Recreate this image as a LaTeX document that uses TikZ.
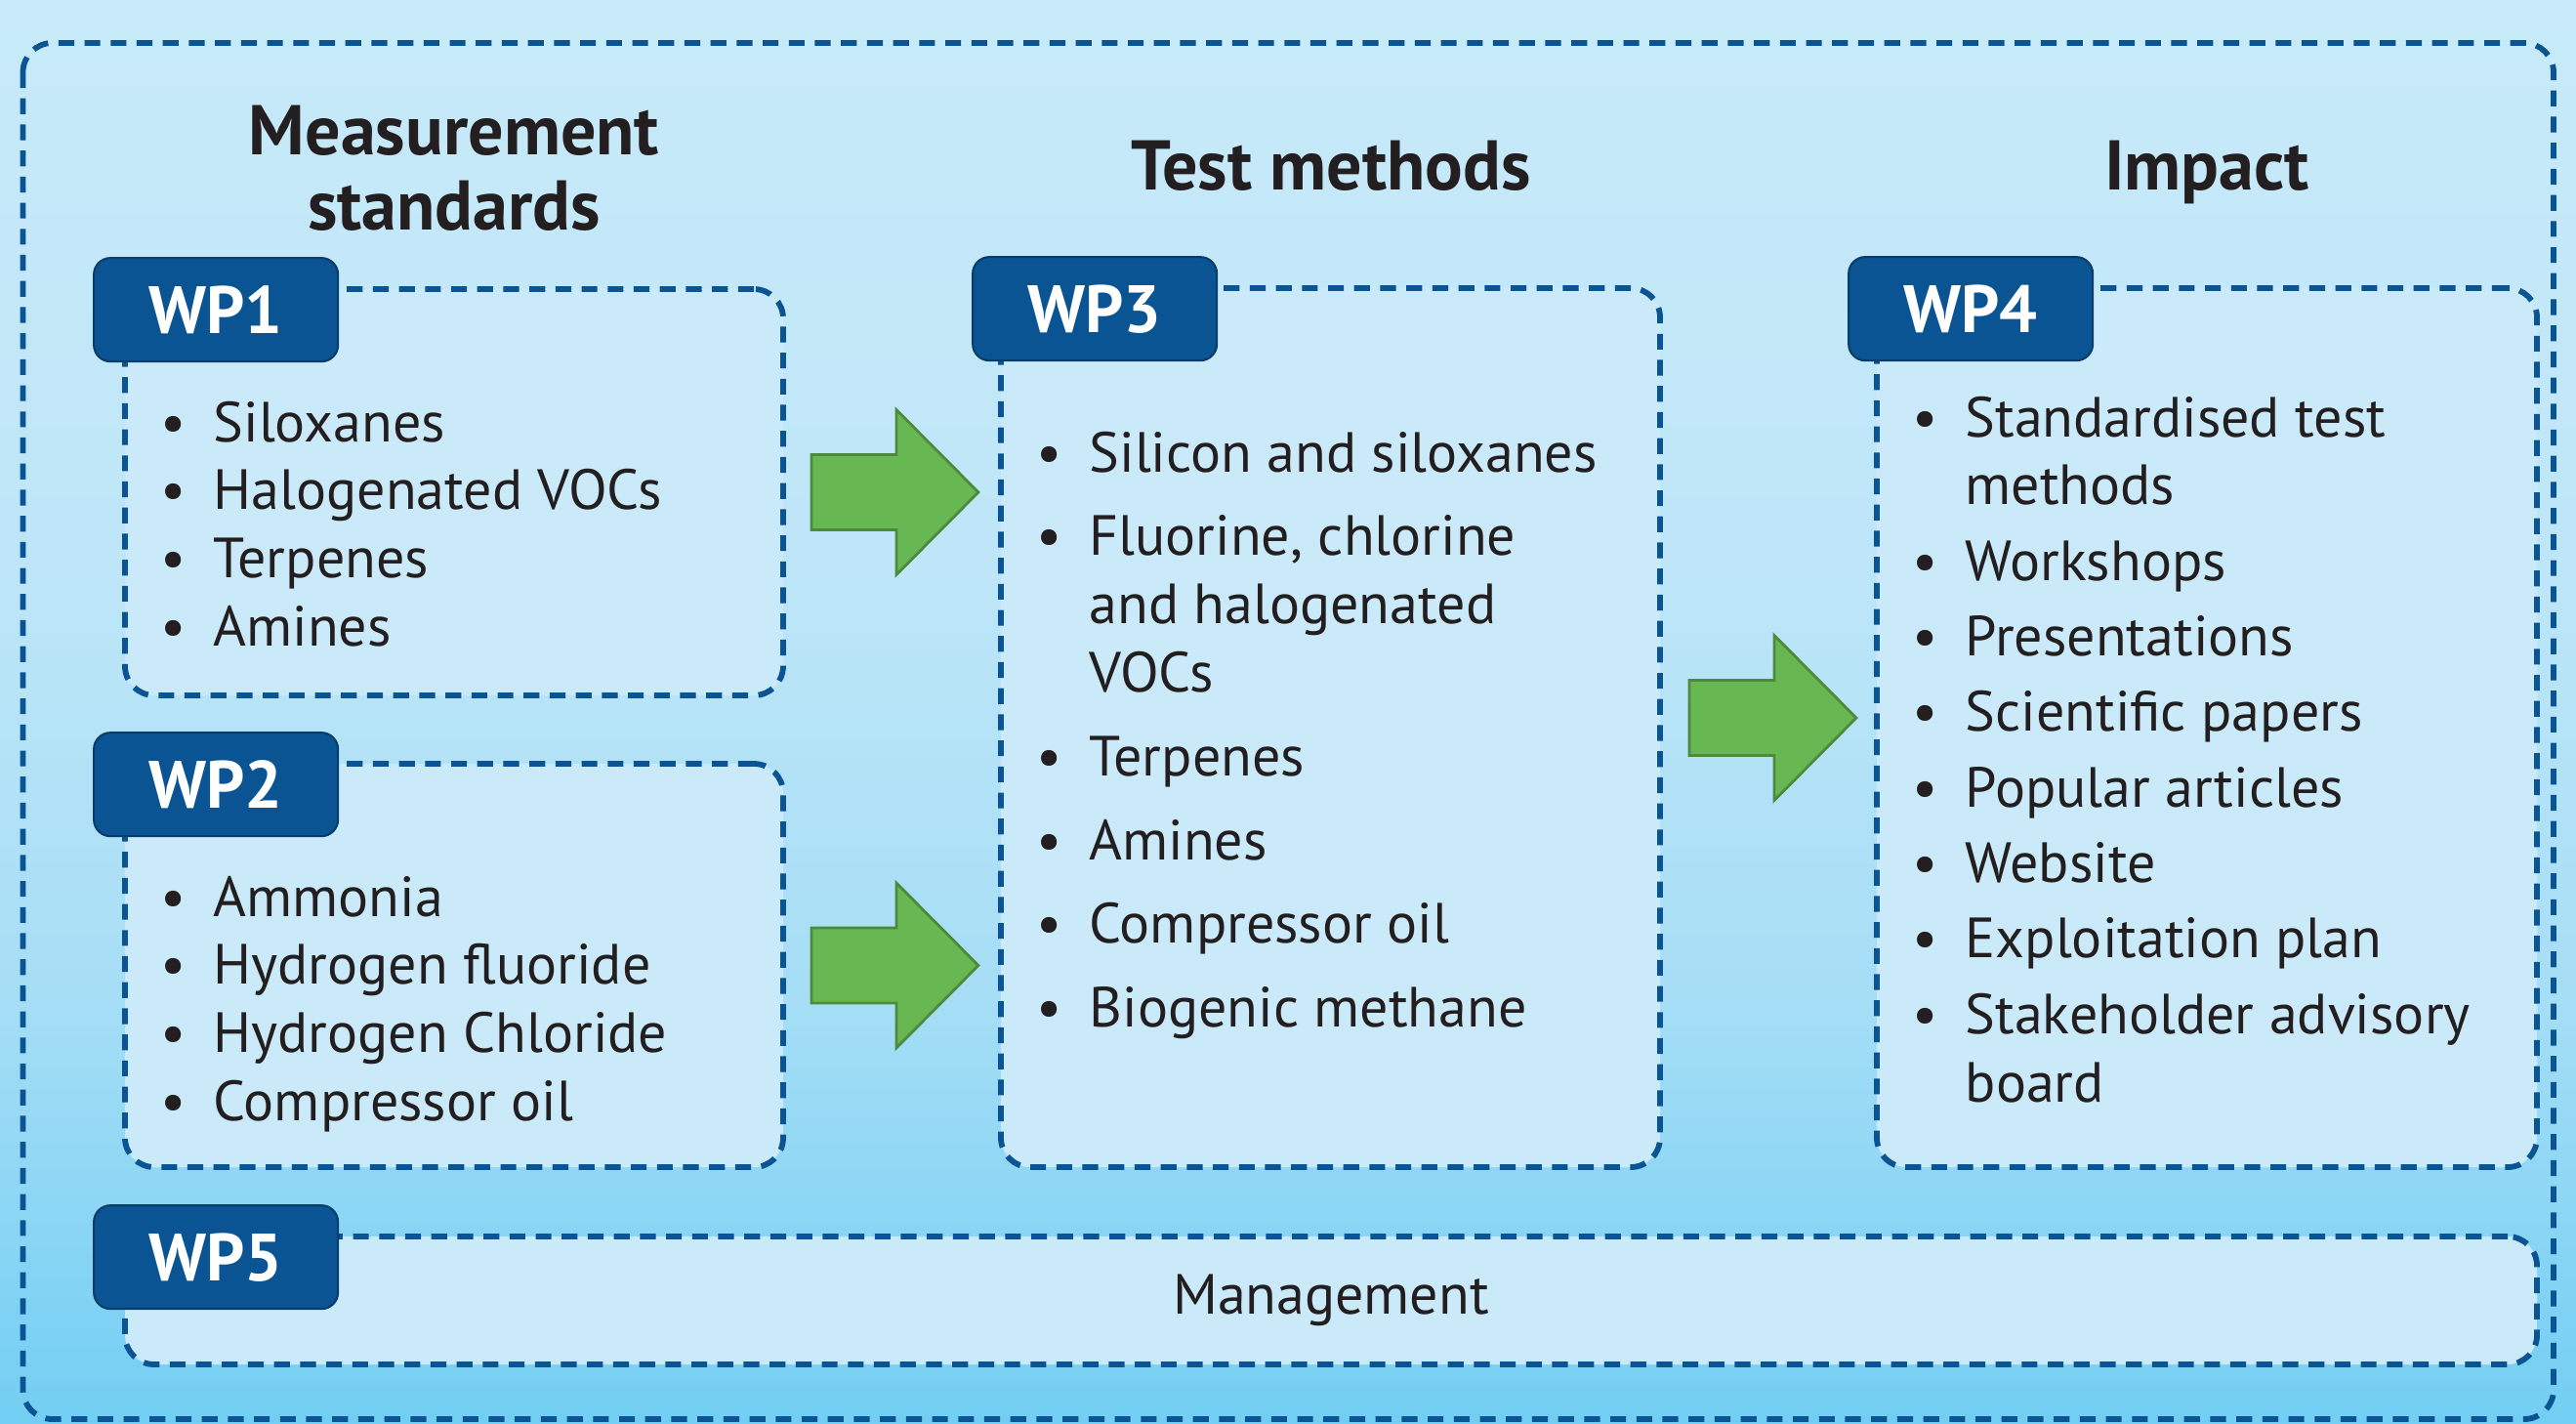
\documentclass[tikz,border=0pt]{standalone}
\usepackage{xcolor}
\usepackage{fontspec}
\setmainfont{PT Sans}
\usepackage{tikz}
\usetikzlibrary{calc}

\definecolor{wpblue}{HTML}{0B5494}
\definecolor{wpedge}{HTML}{083C6B}
\definecolor{panelfill}{HTML}{CBEAF9}
\definecolor{arrowfill}{HTML}{67B852}
\definecolor{arrowedge}{HTML}{4E8A3C}
\definecolor{ink}{HTML}{231F20}
\definecolor{bgtop}{HTML}{C8EAF9}
\definecolor{bglight}{HTML}{BEE6F8}
\definecolor{bgmid}{HTML}{A6DEF6}
\definecolor{bgbot}{HTML}{72CEF3}

\pgfdeclareverticalshading{bgshade}{100bp}{color(0bp)=(bgbot); color(25bp)=(bgbot);
  color(40bp)=(bgmid); color(55bp)=(bglight); color(75bp)=(bgtop); color(100bp)=(bgtop)}

\newcommand{\bul}{\makebox[0.4cm]{\textbullet}}

\begin{document}
\begin{tikzpicture}[
    panel/.style={draw=wpblue,line width=1.65pt,dash pattern=on 4.6pt off 3.0pt,
      fill=panelfill,rounded corners=0.3cm,inner sep=0},
    tag/.style={draw=wpedge,fill=wpblue,line width=0.6pt,rounded corners=0.17cm,
      minimum width=2.5cm,minimum height=1.06cm,inner sep=0,anchor=north west,
      text=white,font=\fontsize{19.5}{22}\selectfont\bfseries},
    list/.style={anchor=base west,inner sep=0,text=ink,font=\fontsize{16.5}{19.9}\selectfont},
    title/.style={align=center,inner sep=0,text=ink,font=\fontsize{20.5}{21.8}\selectfont\bfseries},
    greenarrow/.style={fill=arrowfill,draw=arrowedge,line width=0.8pt,line join=miter}]
  \useasboundingbox (0,0) rectangle (26.38,-14.57);
  % background and outer frame
  \shade[shading=bgshade] (0,0) rectangle (26.38,-14.57);
  \draw[wpblue,line width=1.65pt,dash pattern=on 4.6pt off 3.0pt,rounded corners=0.3cm]
    (0.235,-0.44) rectangle (26.15,-14.53);

  % work package panels
  \node[panel,minimum width=6.74cm,minimum height=4.16cm] (box1) at (4.65,-5.04) {};
  \node[panel,minimum width=6.74cm,minimum height=4.13cm] (box2) at (4.65,-9.885) {};
  \node[panel,minimum width=6.75cm,minimum height=9.0cm] (box3) at (13.625,-7.45) {};
  \node[panel,minimum width=6.76cm,minimum height=9.0cm] (box4) at (22.60,-7.45) {};
  \node[panel,minimum width=24.70cm,minimum height=1.31cm] (box5) at (13.63,-13.315) {};

  % WP tags
  \node[tag] (wp1) at ($(box1.north west)+(-0.3,0.3)$) {WP1};
  \node[tag] (wp2) at ($(box2.north west)+(-0.3,0.3)$) {WP2};
  \node[tag] (wp3) at ($(box3.north west)+(-0.27,0.3)$) {WP3};
  \node[tag] (wp4) at ($(box4.north west)+(-0.27,0.3)$) {WP4};
  \node[tag] (wp5) at ($(box5.north west)+(-0.3,0.3)$) {WP5};

  % column titles
  \node[title] (tmeas) at (4.65,-1.72) {Measurement\\standards};
  \node[title,anchor=base] (ttest) at (13.63,-1.94) {Test methods};
  \node[title,anchor=base] (timp) at (22.60,-1.94) {Impact};

  % lists
  \node[list] (list1) at (1.57,-4.52) {\begin{tabular}[t]{@{}l@{\hspace{0.21cm}}l@{}}
    \bul & Siloxanes\\
    \bul & Halogenated VOCs\\
    \bul & Terpenes\\
    \bul & Amines
  \end{tabular}};
  \node[list] (list2) at (1.57,-9.38) {\begin{tabular}[t]{@{}l@{\hspace{0.21cm}}l@{}}
    \bul & Ammonia\\
    \bul & Hydrogen fluoride\\
    \bul & Hydrogen Chloride\\
    \bul & Compressor oil
  \end{tabular}};
  \node[list] (list3) at (10.54,-4.83) {\begin{tabular}[t]{@{}l@{\hspace{0.21cm}}l@{}}
    \bul & Silicon and siloxanes\\[4.5pt]
    \bul & Fluorine, chlorine\\
         & and halogenated\\
         & VOCs\\[4.5pt]
    \bul & Terpenes\\[4.5pt]
    \bul & Amines\\[4.5pt]
    \bul & Compressor oil\\[4.5pt]
    \bul & Biogenic methane
  \end{tabular}};
  \node[list] (list4) at (19.51,-4.47) {\begin{tabular}[t]{@{}l@{\hspace{0.21cm}}l@{}}
    \bul & Standardised test\\
         & methods\\[2.1pt]
    \bul & Workshops\\[2.1pt]
    \bul & Presentations\\[2.1pt]
    \bul & Scientific papers\\[2.1pt]
    \bul & Popular articles\\[2.1pt]
    \bul & Website\\[2.1pt]
    \bul & Exploitation plan\\[2.1pt]
    \bul & Stakeholder advisory\\
         & board
  \end{tabular}};
  \node[list,anchor=center] (mgmt) at (box5.center) {Management};

  % green block arrows
  \coordinate (a1) at ($(box1.east)+(0.26,0)$);
  \coordinate (a2) at ($(box2.east)+(0.26,0)$);
  \coordinate (a3) at ($(box3.east)+(0.27,0.10)$);
  \foreach \p in {a1,a2,a3}
    \draw[greenarrow] (\p) ++(0,0.385) -- ++(0.87,0) -- ++(0,0.46) -- ++(0.84,-0.845)
      -- ++(-0.84,-0.845) -- ++(0,0.46) -- ++(-0.87,0) -- cycle;
\end{tikzpicture}
\end{document}
